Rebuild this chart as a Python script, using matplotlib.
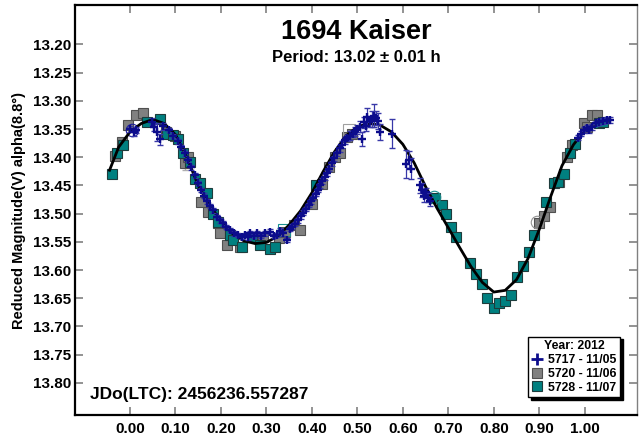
import matplotlib
matplotlib.use("Agg")
import matplotlib.pyplot as plt
from matplotlib.lines import Line2D

plt.rcParams['font.family'] = ['Liberation Sans', 'DejaVu Sans']
plt.rcParams['font.weight'] = 'bold'

# Fourier fit, sampled every 0.025 in phase
fit_phase = [-0.045, -0.025, 0.000, 0.025, 0.050, 0.075, 0.100, 0.125, 0.150, 0.175,
             0.200, 0.225, 0.250, 0.275, 0.300, 0.325, 0.350, 0.375, 0.400, 0.425,
             0.450, 0.475, 0.500, 0.525, 0.550, 0.575, 0.600, 0.625, 0.650, 0.675,
             0.700, 0.725, 0.750, 0.775, 0.800, 0.825, 0.850, 0.875, 0.900, 0.925,
             0.950, 0.975, 1.000, 1.025, 1.050]
fit_mag = [13.423, 13.382, 13.355, 13.340, 13.333, 13.340, 13.360, 13.400, 13.450, 13.485,
           13.513, 13.535, 13.548, 13.553, 13.551, 13.540, 13.520, 13.495, 13.463, 13.425,
           13.390, 13.362, 13.346, 13.340, 13.343, 13.355, 13.377, 13.410, 13.452, 13.490,
           13.525, 13.560, 13.594, 13.622, 13.639, 13.636, 13.617, 13.580, 13.528, 13.470,
           13.415, 13.378, 13.352, 13.338, 13.333]

# 5717 - 11/05
s1_phase = [0.000, 0.008, 0.014, 0.048, 0.053, 0.059, 0.065, 0.072,
            0.085, 0.095, 0.105, 0.113, 0.120, 0.128, 0.135, 0.142, 0.150, 0.157,
            0.163, 0.170, 0.176, 0.183, 0.191, 0.198, 0.205, 0.212, 0.220, 0.229,
            0.238, 0.246, 0.253, 0.260, 0.264, 0.272, 0.279, 0.288, 0.297, 0.308,
            0.316, 0.323, 0.330, 0.337, 0.345, 0.351, 0.356, 0.362, 0.370, 0.376,
            0.381, 0.387, 0.393, 0.398, 0.403, 0.408, 0.413, 0.418, 0.423,
            0.428, 0.433, 0.438, 0.444, 0.449, 0.455, 0.462, 0.467, 0.473, 0.478,
            0.484, 0.490, 0.495, 0.500, 0.506, 0.510, 0.514, 0.518, 0.521, 0.527,
            0.532, 0.536, 0.541, 0.546, 0.550, 0.576, 0.608, 0.613, 0.618, 0.637,
            0.642, 0.646, 0.650, 0.655, 0.660,
            0.985, 0.992, 0.998, 1.004, 1.010, 1.016, 1.024, 1.032, 1.040, 1.048, 1.055]
s1_mag = [13.350, 13.356, 13.352, 13.337, 13.347, 13.356, 13.368, 13.345,
          13.352, 13.362, 13.372, 13.382, 13.393, 13.405, 13.418, 13.432, 13.446, 13.458,
          13.468, 13.478, 13.486, 13.494, 13.506, 13.512, 13.517, 13.524, 13.529, 13.535,
          13.538, 13.541, 13.538, 13.542, 13.535, 13.540, 13.535, 13.540, 13.535, 13.532,
          13.540, 13.538, 13.530, 13.535, 13.547, 13.527, 13.523, 13.518, 13.512, 13.505,
          13.498, 13.492, 13.485, 13.478, 13.472, 13.465, 13.458, 13.450, 13.442,
          13.435, 13.428, 13.420, 13.411, 13.402, 13.393, 13.384, 13.378, 13.370, 13.366,
          13.362, 13.358, 13.354, 13.350, 13.346, 13.368, 13.338, 13.345, 13.329, 13.336,
          13.332, 13.326, 13.330, 13.336, 13.355, 13.358, 13.412, 13.404, 13.420, 13.450,
          13.458, 13.468, 13.462, 13.472, 13.478,
          13.365, 13.358, 13.352, 13.348, 13.352, 13.346, 13.340, 13.338, 13.336, 13.334, 13.334]
s1_err = [0.006, 0.006, 0.005, 0.006, 0.006, 0.016, 0.010, 0.006,
          0.004, 0.004, 0.004, 0.004, 0.004, 0.004, 0.004, 0.004, 0.004, 0.004,
          0.004, 0.004, 0.004, 0.004, 0.004, 0.004, 0.004, 0.004, 0.004, 0.004,
          0.004, 0.004, 0.004, 0.004, 0.004, 0.004, 0.004, 0.004, 0.004, 0.004,
          0.004, 0.004, 0.004, 0.004, 0.004, 0.004, 0.004, 0.004, 0.004, 0.004,
          0.004, 0.004, 0.004, 0.004, 0.004, 0.004, 0.004, 0.005, 0.005,
          0.005, 0.005, 0.005, 0.005, 0.005, 0.005, 0.006, 0.006, 0.006, 0.006,
          0.008, 0.006, 0.008, 0.008, 0.010, 0.012, 0.010, 0.008, 0.016, 0.010,
          0.014, 0.020, 0.012, 0.014, 0.014, 0.025, 0.025, 0.015, 0.018, 0.014,
          0.012, 0.012, 0.008, 0.008, 0.008,
          0.005, 0.005, 0.005, 0.005, 0.005, 0.005, 0.005, 0.005, 0.005, 0.005, 0.005]

# 5720 - 11/06
s2_phase = [-0.033, -0.018, -0.004, 0.013, 0.028, 0.080, 0.100, 0.121, 0.128, 0.157,
            0.172, 0.194, 0.198, 0.213, 0.242, 0.293, 0.327, 0.341, 0.360, 0.374,
            0.400, 0.422, 0.437, 0.451, 0.462, 0.477, 0.488,
            0.900, 0.910, 0.924, 0.943, 0.961, 0.973, 0.998, 1.005, 1.016, 1.027]
s2_mag = [13.398, 13.373, 13.343, 13.325, 13.322, 13.355, 13.363, 13.411, 13.400, 13.479,
          13.497, 13.517, 13.535, 13.556, 13.559, 13.541, 13.544, 13.532, 13.520, 13.529,
          13.482, 13.447, 13.417, 13.399, 13.393, 13.364, 13.358,
          13.517, 13.505, 13.488, 13.444, 13.399, 13.379, 13.340, 13.346, 13.325, 13.325]
s2_err = [0.004] * 7 + [0.012] + [0.004] * 29

# 5728 - 11/07
s3_phase = [-0.040, -0.029, -0.015, 0.037, 0.066, 0.081, 0.095, 0.106, 0.117, 0.132,
            0.143, 0.154, 0.169, 0.183, 0.194, 0.220, 0.227, 0.246, 0.268, 0.286,
            0.308, 0.319, 0.410,
            0.671, 0.686, 0.696, 0.706, 0.718, 0.748, 0.760, 0.774, 0.785, 0.800,
            0.812, 0.825, 0.838, 0.851, 0.864, 0.878, 0.889, 0.914, 0.932, 0.942,
            0.955, 0.967, 0.979, 1.031, 1.040]
s3_mag = [13.429, 13.393, 13.379, 13.337, 13.333, 13.358, 13.361, 13.367, 13.393, 13.408,
          13.438, 13.446, 13.464, 13.500, 13.515, 13.538, 13.547, 13.559, 13.541, 13.556,
          13.562, 13.559, 13.450,
          13.473, 13.485, 13.500, 13.523, 13.542, 13.588, 13.607, 13.625, 13.650, 13.667,
          13.659, 13.655, 13.645, 13.612, 13.593, 13.568, 13.538, 13.479, 13.446, 13.444,
          13.429, 13.393, 13.377, 13.340, 13.337]
s3_err = [0.003] * len(s3_phase)

# points left out of the fit (hollow)
ex_circ_phase = [0.004, 0.668, 0.896]
ex_circ_mag = [13.352, 13.470, 13.515]
ex_circ_color = ['#1a1a9a', '#1a9090', '#909090']
ex_sq_phase = [0.338, 0.481]
ex_sq_mag = [13.529, 13.352]
ex_sq_color = ['#1a9090', '#a0a0a0']

xticks = [0.0, 0.1, 0.2, 0.3, 0.4, 0.5, 0.6, 0.7, 0.8, 0.9, 1.0]
yticks = [13.20, 13.25, 13.30, 13.35, 13.40, 13.45, 13.50, 13.55, 13.60, 13.65, 13.70, 13.75, 13.80]

fig = plt.figure(figsize=(6.39, 4.40), dpi=100)
ax = fig.add_axes([75 / 639, 1 - 415 / 440, 562 / 639, 410 / 440])

ax.errorbar(s2_phase, s2_mag, yerr=s2_err, fmt='none', ecolor='#b0b0b0', elinewidth=1, capsize=2.5, zorder=2)
ax.plot(s2_phase, s2_mag, 's', ms=6.5, mfc='#808080', mec='#505050', mew=0.8, zorder=3)
ax.errorbar(s3_phase, s3_mag, yerr=s3_err, fmt='none', ecolor='#5aa8a8', elinewidth=1, capsize=2.5, zorder=3)
ax.plot(s3_phase, s3_mag, 's', ms=6.5, mfc='#008080', mec='#1e3c3c', mew=0.8, zorder=4)

for px, py, c in zip(ex_circ_phase, ex_circ_mag, ex_circ_color):
    ax.plot(px, py, 'o', ms=9, mfc='none', mec=c, mew=0.8, zorder=4)
for px, py, c in zip(ex_sq_phase, ex_sq_mag, ex_sq_color):
    ax.plot(px, py, 's', ms=9, mfc='none', mec=c, mew=0.8, zorder=4)

ax.plot(fit_phase, fit_mag, color='black', lw=2, zorder=5, solid_joinstyle='round')

ax.errorbar(s1_phase, s1_mag, yerr=s1_err, fmt='none', ecolor='#3838a8', elinewidth=0.9, capsize=2.2, zorder=6)
ax.plot(s1_phase, s1_mag, '+', ms=5.5, mec='#0c0c8c', mew=1.7, zorder=7)

ax.set_xlim(-0.121, 1.115)
ax.set_ylim(13.857, 13.130)
ax.set_xticks(xticks)
ax.set_xticklabels([f'{v:.2f}' for v in xticks])
ax.set_yticks(yticks)
ax.set_yticklabels([f'{v:.2f}' for v in yticks])
ax.tick_params(direction='in', length=6, width=1.2, color='#808080', labelsize=11,
               top=True, right=True, labeltop=False, labelright=False)
ax.tick_params(axis='y', pad=3)
ax.tick_params(axis='x', pad=5)

for side in ['left', 'top', 'bottom']:
    ax.spines[side].set_linewidth(1.6)
    ax.spines[side].set_color('black')
ax.spines['right'].set_linewidth(1.0)
ax.spines['right'].set_color('#808080')

ax.set_ylabel('Reduced Magnitude(V) alpha(8.8°)', fontsize=10.5, fontweight='bold', labelpad=5)

ax.text(0.5, 0.935, '1694 Kaiser', transform=ax.transAxes, ha='center', va='center',
        fontsize=19.5, fontweight='bold')
ax.text(0.5, 0.872, 'Period: 13.02 ± 0.01 h', transform=ax.transAxes, ha='center', va='center',
        fontsize=12, fontweight='bold')
ax.text(0.027, 0.05, 'JDo(LTC): 2456236.557287', transform=ax.transAxes, ha='left', va='center',
        fontsize=12.5, fontweight='bold')

handles = [
    Line2D([], [], ls='none', marker='+', ms=8, mec='#0c0c8c', mew=2),
    Line2D([], [], ls='none', marker='s', ms=6.5, mfc='#808080', mec='#505050', mew=0.8),
    Line2D([], [], ls='none', marker='s', ms=6.5, mfc='#008080', mec='#1e3c3c', mew=0.8),
]
labels = ['5717 - 11/05', '5720 - 11/06', '5728 - 11/07']
leg = ax.legend(handles, labels, title='Year: 2012', loc='lower right',
                bbox_to_anchor=(0.981, 0.028), prop={'size': 8.8, 'weight': 'bold'},
                title_fontproperties={'size': 8.8, 'weight': 'bold'},
                handlelength=0.8, handletextpad=0.5, borderpad=0.3, labelspacing=0.15,
                fancybox=False, framealpha=1, edgecolor='black',
                shadow={'color': 'black', 'alpha': 1})
leg.get_frame().set_linewidth(1.0)
leg.set_zorder(10)

fig.savefig('out.png', dpi=100)
